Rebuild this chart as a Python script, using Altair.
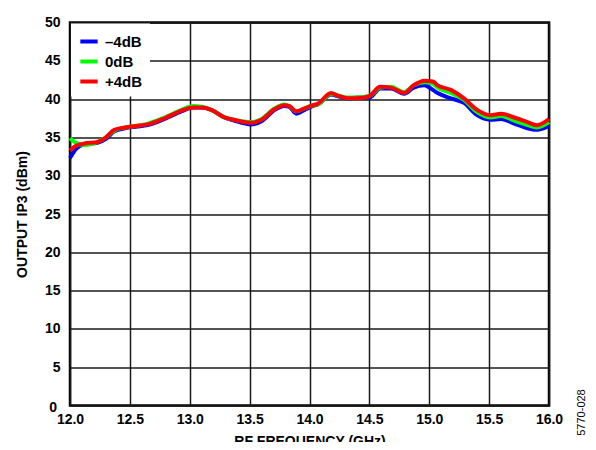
import altair as alt
import pandas as pd

freq = [12.00, 12.05, 12.12, 12.23, 12.30, 12.37, 12.46, 12.55, 12.65, 12.79,
        12.93, 13.03, 13.10, 13.18, 13.29, 13.37, 13.51, 13.60, 13.71, 13.79,
        13.83, 13.89, 13.96, 14.03, 14.07, 14.18, 14.23, 14.32, 14.40, 14.50,
        14.59, 14.68, 14.79, 14.87, 14.96, 15.03, 15.07, 15.18, 15.29, 15.40,
        15.51, 15.60, 15.71, 15.82, 15.90, 16.00]

ip3_m4 = [32.3, 33.5, 34.1, 34.3, 34.8, 35.8, 36.2, 36.4, 36.6, 37.4,
          38.4, 38.9, 38.9, 38.6, 37.6, 37.2, 36.7, 37.1, 38.6, 39.1,
          39.0, 38.1, 38.6, 39.1, 39.3, 40.6, 40.4, 40.1, 40.2, 40.2,
          41.4, 41.4, 40.7, 41.5, 41.8, 41.2, 40.8, 40.1, 39.5, 37.9,
          37.3, 37.4, 36.8, 36.2, 36.0, 36.5]

ip3_0 = [34.9, 34.3, 34.0, 34.4, 35.0, 35.9, 36.3, 36.5, 36.8, 37.6,
         38.6, 39.1, 39.0, 38.6, 37.6, 37.3, 37.0, 37.4, 38.8, 39.3,
         39.1, 38.4, 38.8, 39.2, 39.3, 40.7, 40.5, 40.2, 40.2, 40.4,
         41.5, 41.6, 40.9, 41.8, 42.2, 42.0, 41.5, 40.8, 39.9, 38.3,
         37.6, 37.8, 37.2, 36.6, 36.3, 37.0]

ip3_p4 = [33.3, 33.9, 34.2, 34.4, 35.0, 36.0, 36.3, 36.5, 36.7, 37.5,
          38.5, 38.9, 38.9, 38.6, 37.6, 37.3, 36.9, 37.3, 38.7, 39.2,
          39.1, 38.4, 38.8, 39.2, 39.4, 40.8, 40.5, 40.1, 40.1, 40.4,
          41.6, 41.5, 40.8, 41.8, 42.4, 42.3, 41.8, 41.2, 40.1, 38.6,
          37.9, 38.1, 37.6, 37.0, 36.6, 37.4]

series_names = ["\u20134dB", "0dB", "+4dB"]
series_colors = ["#0000FF", "#00FF00", "#FF0000"]
x_ticks = [12.0, 12.5, 13.0, 13.5, 14.0, 14.5, 15.0, 15.5, 16.0]
y_ticks = [0, 5, 10, 15, 20, 25, 30, 35, 40, 45, 50]

rows = []
for name, vals in zip(series_names, [ip3_m4, ip3_0, ip3_p4]):
    for f, v in zip(freq, vals):
        rows.append({"freq": f, "ip3": v, "series": name,
                     "order": series_names.index(name)})
df = pd.DataFrame(rows)

FONT = "Liberation Sans"

xscale = alt.Scale(domain=[12, 16], nice=False, zero=False)
yscale = alt.Scale(domain=[0, 50], nice=False)

x_axis = alt.Axis(values=x_ticks, format=".1f", title="RF FREQUENCY (GHz)",
                  labelFont=FONT, labelFontWeight="bold", labelFontSize=14,
                  labelColor="black", labelPadding=7, labelFlush=False,
                  labelOverlap=False,
                  titleFont=FONT, titleFontWeight="bold", titleFontSize=14,
                  titleColor="black", titlePadding=8,
                  ticks=False, domain=False, grid=True,
                  gridColor="#1a1a1a", gridWidth=1.5)
y_axis = alt.Axis(values=y_ticks, title="OUTPUT IP3 (dBm)",
                  labelExpr="datum.value == 0 ? '' : datum.label",
                  labelFont=FONT, labelFontWeight="bold", labelFontSize=14,
                  labelColor="black", labelPadding=10, labelFlush=False,
                  labelOverlap=False,
                  titleFont=FONT, titleFontWeight="bold", titleFontSize=14,
                  titleColor="black", titlePadding=15,
                  ticks=False, domain=False, grid=True,
                  gridColor="#1a1a1a", gridWidth=1.5)

lines = alt.Chart(df).mark_line(strokeWidth=4, interpolate="monotone").encode(
    x=alt.X("freq:Q", scale=xscale, axis=x_axis),
    y=alt.Y("ip3:Q", scale=yscale, axis=y_axis),
    color=alt.Color("series:N",
                    scale=alt.Scale(domain=series_names, range=series_colors),
                    legend=alt.Legend(orient="none", legendX=1, legendY=1,
                                      title=None, fillColor="white",
                                      padding=7, symbolType="stroke",
                                      symbolStrokeWidth=4, symbolSize=300,
                                      labelFont=FONT, labelFontWeight="bold",
                                      labelFontSize=15, labelColor="black",
                                      rowPadding=1, labelOffset=5)),
    order=alt.Order("order:Q"),
    detail="series:N",
)

zero_df = pd.DataFrame({"freq": [12.0], "ip3": [0], "t": ["0"]})
zero_lbl = alt.Chart(zero_df).mark_text(
    font=FONT, fontWeight="bold", fontSize=14, align="right", baseline="middle",
    dx=-13, dy=2, color="black").encode(
    x=alt.X("freq:Q", scale=xscale, axis=x_axis),
    y=alt.Y("ip3:Q", scale=yscale, axis=y_axis), text="t:N")

side_df = pd.DataFrame({"t": ["5770-028"]})
side = alt.Chart(side_df).mark_text(
    font=FONT, fontSize=11, angle=270, align="center", baseline="middle",
    color="black").encode(x=alt.value(512), y=alt.value(390), text="t:N")

chart = alt.layer(lines, zero_lbl, side).properties(
    width=479, height=383,
    autosize=alt.AutoSizeParams(type="none"),
    padding={"left": 62, "top": 14.5, "right": 39, "bottom": 36.5},
).configure_view(stroke="black", strokeWidth=2.5)

chart.save("out.html", embed_options={"renderer": "svg", "actions": False})
